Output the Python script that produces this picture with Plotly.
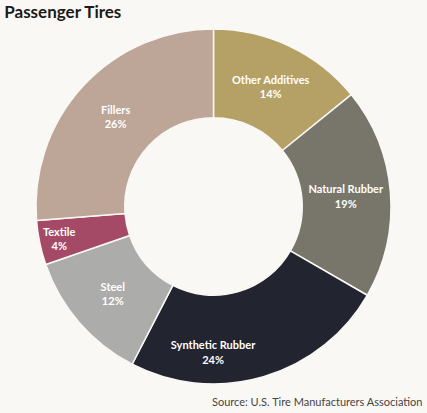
import plotly.graph_objects as go

categories = ["Other Additives", "Natural Rubber", "Synthetic Rubber", "Steel", "Textile", "Fillers"]
shares = [14, 19, 24, 12, 4, 26]
colors = ["#b5a165", "#78766a", "#222430", "#acacaa", "#a54a66", "#bda598"]

FONT = "Source Sans Pro, Lato, sans-serif"

fig = go.Figure()
fig.add_trace(go.Pie(
    labels=categories, values=shares, hole=0.5, sort=False,
    direction="clockwise", rotation=0,
    marker={"colors": colors, "line": {"color": "#faf8f4", "width": 1.5}},
    texttemplate="<b>%{label}<br>%{value}%</b>", textposition="inside",
    insidetextorientation="horizontal",
    textfont={"color": "white", "size": 11, "family": FONT},
    showlegend=False, hoverinfo="label+value",
))
fig.update_layout(
    width=427, height=413,
    margin={"l": 0, "r": 0, "t": 29, "b": 29},
    paper_bgcolor="#faf8f4", plot_bgcolor="#faf8f4",
    title={"text": "<b>Passenger Tires</b>", "x": 0.01, "xanchor": "left",
           "y": 0.97, "yanchor": "middle",
           "font": {"size": 17, "color": "#1a1a1a", "family": FONT}},
    uniformtext={"minsize": 11, "mode": "show"},
)
fig.add_annotation(
    text="Source: U.S. Tire Manufacturers Association",
    xref="paper", yref="paper", x=0.992, y=-0.05, xanchor="right", yanchor="middle",
    showarrow=False, font={"size": 11, "color": "#444444", "family": FONT},
)
fig.write_html("out.html", config={"displayModeBar": False},
               post_script="document.body.style.margin='0';")
